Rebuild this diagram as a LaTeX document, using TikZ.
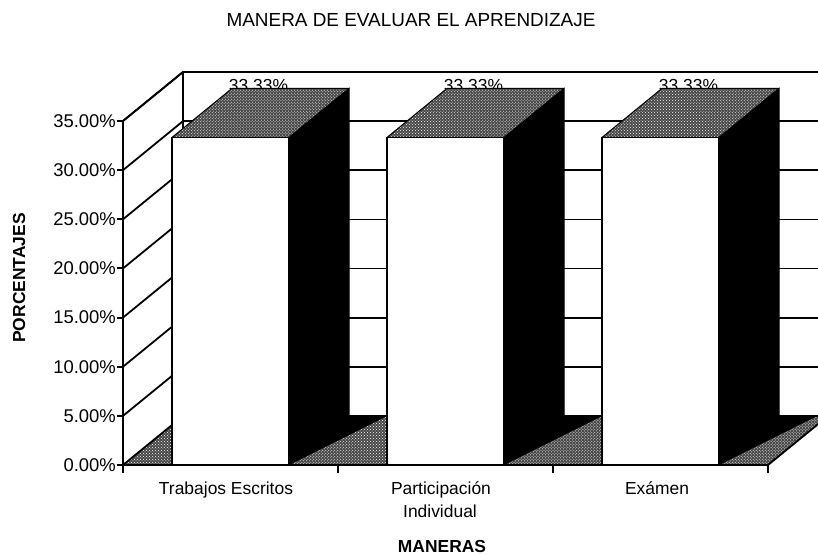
\documentclass[tikz,border=0pt]{standalone}
\usepackage{fontspec}
\setmainfont{Liberation Sans}
\usetikzlibrary{patterns}
\tikzset{
  wallline/.style={line width=1.8bp, line cap=round},
  axisline/.style={line width=1.9bp},
  stipple/.style={preaction={fill=black!72}, pattern=crosshatch dots, pattern color=white},
  sideface/.style={fill=black, draw=black, line width=1bp},
  topface/.style={stipple, draw=black, line width=1bp, line join=round},
  frontface/.style={fill=white, draw=black, line width=1.8bp},
  ticklab/.style={font=\fontsize{18.5}{21}\selectfont, anchor=east, inner sep=0pt},
  catlab/.style={font=\fontsize{17.5}{20}\selectfont, anchor=base, inner sep=0pt},
  valab/.style={font=\fontsize{17.5}{20}\selectfont, anchor=base, inner sep=0pt},
  axtitle/.style={font=\fontsize{17.5}{20}\selectfont\bfseries, inner sep=0pt},
  charttitle/.style={font=\fontsize{19}{22}\selectfont, anchor=base, inner sep=0pt}
}
\begin{document}
\begin{tikzpicture}[x=1bp,y=-1bp]
\useasboundingbox (0,0) rectangle (818,555);
\begin{scope}
\clip (0,0) rectangle (818,555);
% back wall gridlines and left wall
\foreach \v in {5,10,...,35} {
  \pgfmathsetmacro\yf{465-\v*344/35}
  \pgfmathsetmacro\yb{\yf-49}
  \draw[wallline] (183,\yb) -- (830,\yb);
  \draw[wallline] (123,\yf) -- (183,\yb);
}
\draw[wallline] (183,72) -- (183,416);
% floor
\fill[stipple] (123,465) -- (768,465) -- (828,416) -- (183,416) -- cycle;
\draw[wallline] (123,465) -- (183,416) -- (830,416);
\draw[wallline] (768,465) -- (828,416);
% value labels (partly hidden by the bar tops)
\foreach \c/\n in {230.5/a,445.5/b,660.5/c} {
  \node[valab] (val\n) at (\c+28,92) {33.33\%};
}
% bars
\foreach \c/\n in {230.5/a,445.5/b,660.5/c} {
  \pgfmathsetmacro\L{\c-58.5}
  \pgfmathsetmacro\R{\c+58.5}
  \pgfmathsetmacro\T{465-33.33*344/35}
  \ifx\n c\else
    \fill[black] (\R,465) -- (\R+60,416) -- (\R+98,416) -- cycle;
  \fi
  \draw[sideface] (\R,\T) -- (\R+60,\T-49) -- (\R+60,416) -- (\R,465) -- cycle;
  \draw[topface] (\L,\T) -- (\R,\T) -- (\R+60,\T-49) -- (\L+60,\T-49) -- cycle;
  \draw[frontface] (\L,465) rectangle (\R,\T);
}
% top back edge
\draw[wallline] (183,72) -- (830,72);
\draw[wallline] (123,121) -- (183,72);
\end{scope}
% axes
\draw[axisline] (123,121) -- (123,465);
\draw[axisline] (123,465) -- (768,465);
\foreach \v in {0,5,...,35} {
  \pgfmathsetmacro\yf{465-\v*344/35}
  \draw[axisline] (117,\yf) -- (123,\yf);
}
\foreach \x in {123,338,553,768} {
  \draw[axisline] (\x,465) -- (\x,473);
}
% tick labels
\node[ticklab] (t35) at (116,121) {35.00\%};
\node[ticklab] (t30) at (116,170.1) {30.00\%};
\node[ticklab] (t25) at (116,219.3) {25.00\%};
\node[ticklab] (t20) at (116,268.4) {20.00\%};
\node[ticklab] (t15) at (116,317.6) {15.00\%};
\node[ticklab] (t10) at (116,366.7) {10.00\%};
\node[ticklab] (t05) at (116,415.9) {5.00\%};
\node[ticklab] (t00) at (116,465) {0.00\%};
% category labels
\node[catlab] (cat1) at (226,494) {Trabajos Escritos};
\node[catlab] (cat2a) at (441,494) {Participación};
\node[catlab] (cat2b) at (440,517) {Individual};
\node[catlab] (cat3) at (657,494) {Exámen};
% axis titles
\node[axtitle, anchor=base] (xtitle) at (442,552) {MANERAS};
\node[axtitle, rotate=90] (ytitle) at (19,278) {PORCENTAJES};
% chart title
\node[charttitle] (title) at (411,27) {MANERA DE EVALUAR EL APRENDIZAJE};
\end{tikzpicture}
\end{document}
